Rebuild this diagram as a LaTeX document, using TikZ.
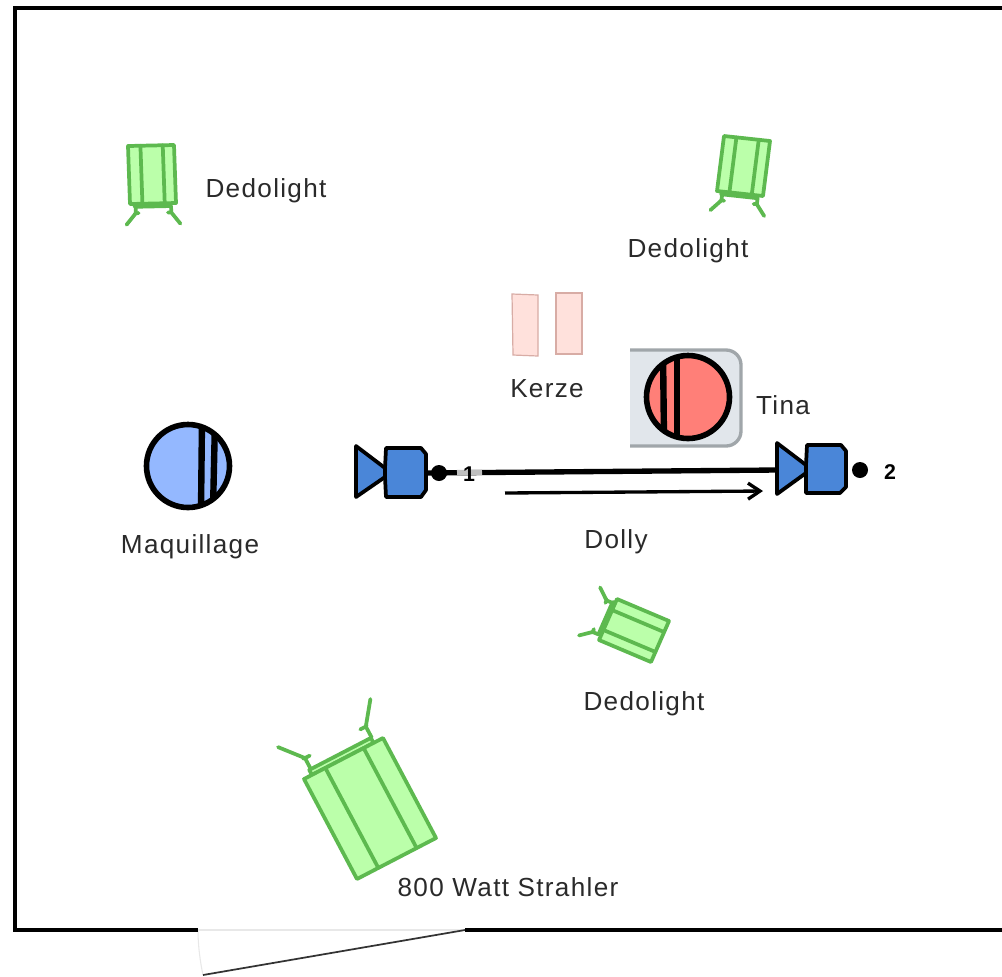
\documentclass[tikz,border=0pt]{standalone}
\usepackage{fontspec}
\setmainfont{Liberation Sans}[LetterSpace=5]
\newfontfamily\numfont{Liberation Sans}[Scale=1]
\usetikzlibrary{arrows.meta}
\definecolor{lampline}{HTML}{5DB94F}
\definecolor{lampfill}{HTML}{BBFFAA}
\definecolor{camfill}{HTML}{4A86D8}
\definecolor{tinafill}{HTML}{FF7F78}
\definecolor{makeupfill}{HTML}{94B8FF}
\definecolor{candlefill}{HTML}{FFE1DC}
\definecolor{candleline}{HTML}{D8ACA5}
\definecolor{tablefill}{HTML}{E1E6EB}
\definecolor{tableline}{HTML}{A0A6AA}
\definecolor{labeltext}{HTML}{2A2A2A}
\tikzset{
  x=0.75pt,y=-0.75pt,
  lampstroke/.style={draw=lampline,line width=2.8pt,line join=round,line cap=round},
  lampbody/.style={lampstroke,fill=lampfill},
  actor/.style={draw=black,line width=4.2pt},
  stripe/.style={draw=black,line width=4.8pt},
  cambody/.style={draw=black,line width=2.8pt,fill=camfill,line join=round},
  markerdot/.style={circle,fill=black,inner sep=0pt,minimum size=12pt},
  lbl/.style={font=\fontsize{19.6}{23}\selectfont,text=labeltext,inner sep=0pt},
  numlbl/.style={font=\numfont\fontsize{16}{19}\selectfont\bfseries,text=black,inner sep=0pt},
  candle/.style={draw=candleline,line width=0.9pt,fill=candlefill},
}
% #1,#2 leg-side corner; #3,#4 along the leg side; #5,#6 away from the legs (all in px)
\newcommand{\lampicon}[6]{%
  \begin{scope}[shift={(#1,#2)},x={({(#3)*0.75pt},{-1*(#4)*0.75pt})},y={({(#5)*0.75pt},{-1*(#6)*0.75pt})}]
    \path[lampbody] (0.1,-0.05) -- (0.88,-0.05) -- (0.88,0) -- (0.1,0) -- cycle;
    \path[lampbody] (0,0) -- (1,0) -- (1,1) -- (0,1) -- cycle;
    \draw[lampstroke] (0.27,0) -- (0.27,1) (0.755,0) -- (0.755,1);
    \draw[lampstroke] (0.12,-0.05) -- (0.12,-0.16) -- (-0.09,-0.356) (0.1,-0.16) -- (0.18,-0.16);
    \draw[lampstroke] (0.89,-0.05) -- (0.89,-0.16) -- (1.08,-0.357) (0.82,-0.16) -- (0.9,-0.16);
  \end{scope}}
\begin{document}
\begin{tikzpicture}
\clip (0,0) rectangle (1002,976);
\fill[white] (0,0) rectangle (1002,976);

% door gap
\draw[draw=black!9,line width=1pt] (198,930) -- (465,930);
\draw[draw=black!9,line width=0.8pt] (198,930) .. controls (198,945) and (200,961) .. (203,975);
\draw[draw=black!80,line width=1.3pt] (465,930) -- (203,975);
% room outline
\draw[black,line width=3.3pt] (198,930) -- (15,930) -- (15,8) -- (1004,8);
\draw[black,line width=3.3pt] (465,930) -- (1004,930);

% lamps
\lampicon{130}{204}{46}{-1}{-2}{-58}
\lampicon{717}{191}{46}{5}{7}{-55}
\lampicon{617}{599}{-18}{41}{52}{22}
\lampicon{304}{779}{79}{-41}{53}{100}

% candles
\draw[candle] (512,294) -- (538,295) -- (538,356) -- (513,355) -- cycle;
\draw[candle] (556,293) -- (582,293) -- (582,354) -- (556,354) -- cycle;

% Tina's seat
\fill[tablefill] (630,350) -- (726,350) to[out=0,in=90] (741,365) -- (741,431) to[out=-90,in=0] (726,446) -- (630,446) -- cycle;
\draw[tableline,line width=2.5pt] (630,350) -- (726,350) to[out=0,in=90] (741,365) -- (741,431) to[out=-90,in=0] (726,446) -- (630,446);

% Tina
\begin{scope}
  \clip (688,397) circle [radius=42];
  \fill[tinafill] (688,397) circle [radius=42];
  \draw[stripe] (663,350) -- (664,440);
  \draw[stripe] (677,350) -- (677,445);
\end{scope}
\draw[actor] (688,397) circle [radius=41.5];

% make-up
\begin{scope}
  \clip (188,466) circle [radius=42];
  \fill[makeupfill] (188,466) circle [radius=42];
  \draw[stripe] (202,420) -- (201,510);
  \draw[stripe] (215,420) -- (213,510);
\end{scope}
\draw[actor] (188,466) circle [radius=41.5];

% dolly track
\coordinate (camOneBack) at (426,473);
\coordinate (camTwoFront) at (777,470);
\coordinate (labelStart) at (457,472.6);
\coordinate (labelEnd) at (482,472.4);
\draw[black,line width=4pt] (camOneBack) -- (camTwoFront);
\draw[black!25,line width=4pt] (labelStart) -- (labelEnd);
\coordinate (arrowStart) at (505,493);
\coordinate (arrowEnd) at (763,491);
\draw[black,line width=2.5pt,-{Straight Barb[length=9pt,width=12pt,line width=2.5pt]}] (arrowStart) -- (arrowEnd);

% cameras
\draw[cambody] (356,446) -- (385,468) -- (385,477) -- (356,497) -- cycle;
\draw[cambody] (386,448) -- (421,448) -- (426,454) -- (426,490) -- (421,497) -- (386,497) -- (385,477) -- (385,468) -- cycle;
\draw[cambody] (777,443) -- (806,465) -- (806,473) -- (777,494) -- cycle;
\draw[cambody] (807,445) -- (841,445) -- (846,451) -- (846,487) -- (840,493) -- (806,493) -- (806,473) -- (806,465) -- cycle;

\node[markerdot] (dotOne) at (439,473) {};
\node[markerdot] (dotTwo) at (860,470) {};
\node[numlbl] (numOne) at (469,474) {1};
\node[numlbl] (numTwo) at (890,472) {2};

% labels
\node[lbl] (dedoA) at (266,190.5) {Dedolight};
\node[lbl] (dedoB) at (688,250.5) {Dedolight};
\node[lbl] (dedoC) at (644,703.5) {Dedolight};
\node[lbl] (kerze) at (547,388.5) {Kerze};
\node[lbl] (tina) at (783,405) {Tina};
\node[lbl] (maqu) at (190,546.5) {Maquillage};
\node[lbl] (dolly) at (616,541.5) {Dolly};
\node[lbl] (strahler) at (508,887) {800 Watt Strahler};
\end{tikzpicture}
\end{document}
